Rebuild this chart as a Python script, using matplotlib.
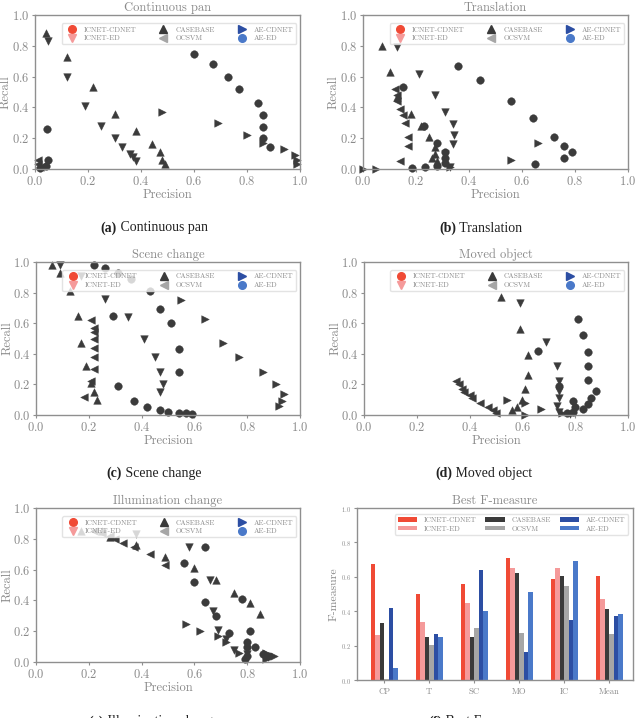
import matplotlib
matplotlib.use("Agg")
import matplotlib.pyplot as plt
from matplotlib.lines import Line2D
from matplotlib.patches import Patch
import numpy as np

plt.rcParams['font.family'] = ['cmr10', 'DejaVu Serif']
plt.rcParams['mathtext.fontset'] = 'cm'
plt.rcParams['axes.formatter.use_mathtext'] = True

METHODS = ["ICNET-CDNET", "ICNET-ED", "CASEBASE", "OCSVM", "AE-CDNET", "AE-ED"]
MARKERS = {"ICNET-CDNET": "o", "ICNET-ED": "v", "CASEBASE": "^",
           "OCSVM": "<", "AE-CDNET": ">", "AE-ED": "o"}
COLORS = {"ICNET-CDNET": "#f04a35", "ICNET-ED": "#f59a9a", "CASEBASE": "#3a3a3a",
          "OCSVM": "#a6a6a6", "AE-CDNET": "#2c4ea3", "AE-ED": "#4a79c9"}

# ---- (a) Continuous pan ----
cp_precision = {
    "ICNET-CDNET": [0.60, 0.67, 0.73, 0.77, 0.84, 0.86, 0.86, 0.86, 0.885],
    "ICNET-ED": [0.05, 0.12, 0.19, 0.25, 0.30, 0.33, 0.36, 0.37, 0.38],
    "CASEBASE": [0.04, 0.12, 0.22, 0.30, 0.38, 0.44, 0.47, 0.48, 0.49],
    "OCSVM": [0.01, 0.01, 0.02],
    "AE-CDNET": [0.48, 0.69, 0.80, 0.86, 0.94, 0.98, 0.99, 0.99],
    "AE-ED": [0.045, 0.05, 0.04, 0.02],
}
cp_recall = {
    "ICNET-CDNET": [0.75, 0.68, 0.60, 0.52, 0.43, 0.35, 0.27, 0.20, 0.14],
    "ICNET-ED": [0.83, 0.60, 0.41, 0.28, 0.20, 0.14, 0.10, 0.08, 0.05],
    "CASEBASE": [0.88, 0.73, 0.53, 0.36, 0.25, 0.16, 0.11, 0.06, 0.03],
    "OCSVM": [0.06, 0.03, 0.01],
    "AE-CDNET": [0.37, 0.30, 0.22, 0.17, 0.13, 0.09, 0.06, 0.03],
    "AE-ED": [0.26, 0.06, 0.02, 0.005],
}

# ---- (b) Translation ----
tr_precision = {
    "ICNET-CDNET": [0.36, 0.44, 0.56, 0.64, 0.72, 0.76, 0.79, 0.76, 0.65],
    "ICNET-ED": [0.13, 0.21, 0.27, 0.31, 0.34, 0.345, 0.34, 0.31, 0.33],
    "CASEBASE": [0.07, 0.10, 0.13, 0.18, 0.22, 0.25, 0.27, 0.27, 0.26, 0.28],
    "OCSVM": [0.12, 0.13, 0.13, 0.14, 0.15, 0.16, 0.17, 0.17, 0.14],
    "AE-CDNET": [0.0, 0.05, 0.33, 0.56, 0.66],
    "AE-ED": [0.15, 0.23, 0.28, 0.31, 0.31, 0.31, 0.28, 0.235, 0.185],
}
tr_recall = {
    "ICNET-CDNET": [0.67, 0.58, 0.44, 0.33, 0.21, 0.15, 0.11, 0.07, 0.03],
    "ICNET-ED": [0.79, 0.62, 0.48, 0.37, 0.29, 0.22, 0.16, 0.10, 0.01],
    "CASEBASE": [0.80, 0.63, 0.47, 0.36, 0.28, 0.21, 0.14, 0.10, 0.07, 0.05],
    "OCSVM": [0.52, 0.48, 0.44, 0.39, 0.35, 0.30, 0.21, 0.15, 0.05],
    "AE-CDNET": [0.0, 0.0, 0.01, 0.06, 0.17],
    "AE-ED": [0.53, 0.28, 0.17, 0.11, 0.07, 0.04, 0.02, 0.01, 0.005],
}

# ---- (c) Scene change ----
sc_precision = {
    "ICNET-CDNET": [0.22, 0.26, 0.31, 0.36, 0.43, 0.47, 0.51, 0.54, 0.54],
    "ICNET-ED": [0.09, 0.17, 0.26, 0.35, 0.41, 0.45, 0.47, 0.48, 0.47],
    "CASEBASE": [0.06, 0.09, 0.13, 0.16, 0.17, 0.19, 0.21, 0.22, 0.23],
    "OCSVM": [0.21, 0.22, 0.22, 0.22, 0.22, 0.22, 0.22, 0.21, 0.18],
    "AE-CDNET": [0.55, 0.64, 0.71, 0.77, 0.86, 0.91, 0.94, 0.93, 0.92],
    "AE-ED": [0.29, 0.31, 0.37, 0.42, 0.47, 0.50, 0.54, 0.57, 0.59],
}
sc_recall = {
    "ICNET-CDNET": [0.98, 0.96, 0.93, 0.89, 0.81, 0.69, 0.60, 0.43, 0.28],
    "ICNET-ED": [0.98, 0.91, 0.76, 0.64, 0.50, 0.38, 0.28, 0.20, 0.15],
    "CASEBASE": [0.98, 0.93, 0.81, 0.65, 0.47, 0.32, 0.21, 0.15, 0.10],
    "OCSVM": [0.62, 0.57, 0.54, 0.50, 0.44, 0.38, 0.30, 0.22, 0.12],
    "AE-CDNET": [0.75, 0.63, 0.47, 0.38, 0.28, 0.20, 0.14, 0.09, 0.06],
    "AE-ED": [0.65, 0.19, 0.09, 0.05, 0.03, 0.02, 0.015, 0.01, 0.005],
}

# ---- (d) Moved object ----
mo_precision = {
    "ICNET-CDNET": [0.81, 0.83, 0.85, 0.85, 0.85, 0.88, 0.86, 0.85, 0.83],
    "ICNET-ED": [0.59, 0.69, 0.73, 0.74, 0.74, 0.74, 0.73, 0.74, 0.78],
    "CASEBASE": [0.52, 0.59, 0.62, 0.62, 0.61, 0.60, 0.58, 0.56],
    "OCSVM": [0.35, 0.36, 0.37, 0.38, 0.40, 0.41, 0.44, 0.47, 0.49, 0.50],
    "AE-CDNET": [0.54, 0.61, 0.67, 0.75, 0.61],
    "AE-ED": [0.66, 0.74, 0.79, 0.80, 0.79, 0.77],
}
mo_recall = {
    "ICNET-CDNET": [0.63, 0.52, 0.41, 0.32, 0.23, 0.16, 0.11, 0.07, 0.04],
    "ICNET-ED": [0.73, 0.48, 0.32, 0.22, 0.16, 0.11, 0.06, 0.02, 0.005],
    "CASEBASE": [0.77, 0.56, 0.39, 0.26, 0.17, 0.10, 0.05, 0.03],
    "OCSVM": [0.22, 0.20, 0.17, 0.15, 0.13, 0.11, 0.08, 0.05, 0.03, 0.01],
    "AE-CDNET": [0.10, 0.08, 0.04, 0.01, 0.0],
    "AE-ED": [0.42, 0.19, 0.09, 0.05, 0.02, 0.01],
}

# ---- (e) Illumination change ----
ic_precision = {
    "ICNET-CDNET": [0.56, 0.60, 0.64, 0.68, 0.73, 0.80, 0.80, 0.80, 0.79],
    "ICNET-ED": [0.38, 0.58, 0.66, 0.67, 0.69, 0.72, 0.75, 0.80, 0.88],
    "CASEBASE": [0.17, 0.25, 0.28, 0.38, 0.49, 0.60, 0.68, 0.75, 0.81, 0.85],
    "OCSVM": [0.22, 0.25, 0.28, 0.30, 0.33, 0.37, 0.43, 0.49],
    "AE-CDNET": [0.57, 0.62, 0.69, 0.72, 0.77, 0.87, 0.87, 0.90],
    "AE-ED": [0.64, 0.78, 0.81, 0.83, 0.86, 0.88],
}
ic_recall = {
    "ICNET-CDNET": [0.64, 0.52, 0.39, 0.30, 0.19, 0.13, 0.10, 0.04, 0.02],
    "ICNET-ED": [0.83, 0.75, 0.53, 0.33, 0.21, 0.15, 0.08, 0.05, 0.03],
    "CASEBASE": [0.85, 0.85, 0.81, 0.76, 0.68, 0.61, 0.53, 0.45, 0.38, 0.31],
    "OCSVM": [0.85, 0.84, 0.82, 0.80, 0.77, 0.75, 0.70, 0.63],
    "AE-CDNET": [0.25, 0.20, 0.17, 0.13, 0.06, 0.02, 0.06, 0.04],
    "AE-ED": [0.75, 0.41, 0.20, 0.10, 0.05, 0.04],
}

# ---- (f) Best F-measure ----
bar_categories = ["CP", "T", "SC", "MO", "IC", "Mean"]
f_icnet_cdnet = [0.675, 0.50, 0.56, 0.71, 0.59, 0.605]
f_icnet_ed = [0.26, 0.34, 0.45, 0.65, 0.65, 0.47]
f_casebase = [0.33, 0.25, 0.25, 0.62, 0.605, 0.41]
f_ocsvm = [0.005, 0.205, 0.30, 0.275, 0.545, 0.265]
f_ae_cdnet = [0.42, 0.27, 0.64, 0.165, 0.35, 0.37]
f_ae_ed = [0.07, 0.25, 0.40, 0.51, 0.69, 0.385]

GRAY = "#8a8a8a"
SPINE = "#8f8f8f"
POINT = "#3b3b3b"

W, H = 637, 718
fig = plt.figure(figsize=(W / 100, H / 100), dpi=100)


def px_axes(left, top, right, bottom):
    return fig.add_axes([left / W, 1 - bottom / H, (right - left) / W, (bottom - top) / H])


def style_axes(ax, tick_size=9, pad=1.5):
    for s in ax.spines.values():
        s.set_color(SPINE)
        s.set_linewidth(1.0)
    ax.tick_params(direction='out', colors=SPINE, labelcolor=GRAY,
                   labelsize=tick_size, length=2.5, width=0.8, pad=pad)


def legend_handles():
    hs = []
    for m in METHODS:
        hs.append(Line2D([], [], linestyle='none', marker=MARKERS[m], markersize=5.5,
                         markerfacecolor=COLORS[m], markeredgecolor=COLORS[m], label=m))
    return hs


def scatter_panel(ax, title, prec, rec):
    for m in METHODS:
        ax.scatter(prec[m], rec[m], marker=MARKERS[m], s=30, color=POINT,
                   edgecolors=POINT, linewidths=0.3, zorder=2, clip_on=False)
    ax.set_xlim(0, 1)
    ax.set_ylim(0, 1)
    ax.set_xticks(np.arange(0, 1.01, 0.2))
    ax.set_yticks(np.arange(0, 1.01, 0.2))
    style_axes(ax)
    ax.set_title(title, fontsize=9, color=GRAY, pad=3)
    ax.set_xlabel("Precision", fontsize=9, color=GRAY, labelpad=1)
    ax.set_ylabel("Recall", fontsize=9, color=GRAY)
    ax.yaxis.set_label_coords(-0.087, 0.5)
    leg = ax.legend(handles=legend_handles(), ncol=3, fontsize=5.3, loc='lower left',
                    bbox_to_anchor=(0.1, 0.81, 0.885, 0.18), mode='expand',
                    frameon=True, framealpha=0.8, edgecolor='#dddddd',
                    handletextpad=0.6, borderpad=0.4, labelspacing=0.35,
                    fancybox=True, borderaxespad=0.0)
    for t in leg.get_texts():
        t.set_color(GRAY)
    leg.set_zorder(5)


ax_a = px_axes(35, 15, 300, 169)
scatter_panel(ax_a, "Continuous pan", cp_precision, cp_recall)
ax_b = px_axes(363, 15, 628, 169)
scatter_panel(ax_b, "Translation", tr_precision, tr_recall)
ax_c = px_axes(36, 262, 300, 415)
scatter_panel(ax_c, "Scene change", sc_precision, sc_recall)
ax_d = px_axes(364, 262, 628, 415)
scatter_panel(ax_d, "Moved object", mo_precision, mo_recall)
ax_e = px_axes(36, 508, 300, 662)
scatter_panel(ax_e, "Illumination change", ic_precision, ic_recall)

# bar chart
ax_f = px_axes(357, 508, 633, 680)
series = [f_icnet_cdnet, f_icnet_ed, f_casebase, f_ocsvm, f_ae_cdnet, f_ae_ed]
x = np.arange(len(bar_categories))
bw = 0.1
for i, (m, vals) in enumerate(zip(METHODS, series)):
    ax_f.bar(x + (i - 2.5) * bw, vals, width=bw, color=COLORS[m], label=m, linewidth=0)
ax_f.set_xticks(x)
ax_f.set_xticklabels(bar_categories)
ax_f.set_xlim(-0.6, 5.53)
ax_f.set_ylim(0, 1)
ax_f.set_yticks(np.arange(0, 1.01, 0.2))
style_axes(ax_f, tick_size=4.7, pad=2)
ax_f.tick_params(axis='x', labelsize=6.2, pad=3)
ax_f.set_title("Best F-measure", fontsize=9, color=GRAY, pad=3)
ax_f.set_ylabel("F-measure", fontsize=8.5, color=GRAY)
ax_f.yaxis.set_label_coords(-0.065, 0.5)
handles = [Patch(facecolor=COLORS[m], edgecolor='none', label=m) for m in METHODS]
leg = ax_f.legend(handles=handles, ncol=3, fontsize=5.3, loc='lower left',
                  bbox_to_anchor=(0.137, 0.845, 0.845, 0.14), mode='expand',
                  frameon=True, framealpha=0.8, edgecolor='#dddddd',
                  handlelength=2.6, handleheight=0.6, handletextpad=0.9,
                  borderpad=0.4, labelspacing=0.35, borderaxespad=0.0)
for t in leg.get_texts():
    t.set_color(GRAY)

# captions
renderer = fig.canvas.get_renderer()


def caption(cx, cy, tag, text):
    kw = dict(fontsize=10, family=['Liberation Serif', 'DejaVu Serif'], color='#222222', va='center')
    t1 = fig.text(0, 0, tag, weight='bold', **kw)
    t2 = fig.text(0, 0, " " + text, **kw)
    w1 = t1.get_window_extent(renderer).width
    w2 = t2.get_window_extent(renderer).width
    left = cx - (w1 + w2) / 2
    t1.set_position((left / W, 1 - cy / H))
    t2.set_position(((left + w1) / W, 1 - cy / H))


caption(154, 228, "(a)", "Continuous pan")
caption(481, 228, "(b)", "Translation")
caption(154, 473, "(c)", "Scene change")
caption(484, 473, "(d)", "Moved object")
caption(154, 722, "(e)", "Illumination change")
caption(480, 722, "(f)", "Best F-measure")

fig.savefig("out.png", dpi=100)
